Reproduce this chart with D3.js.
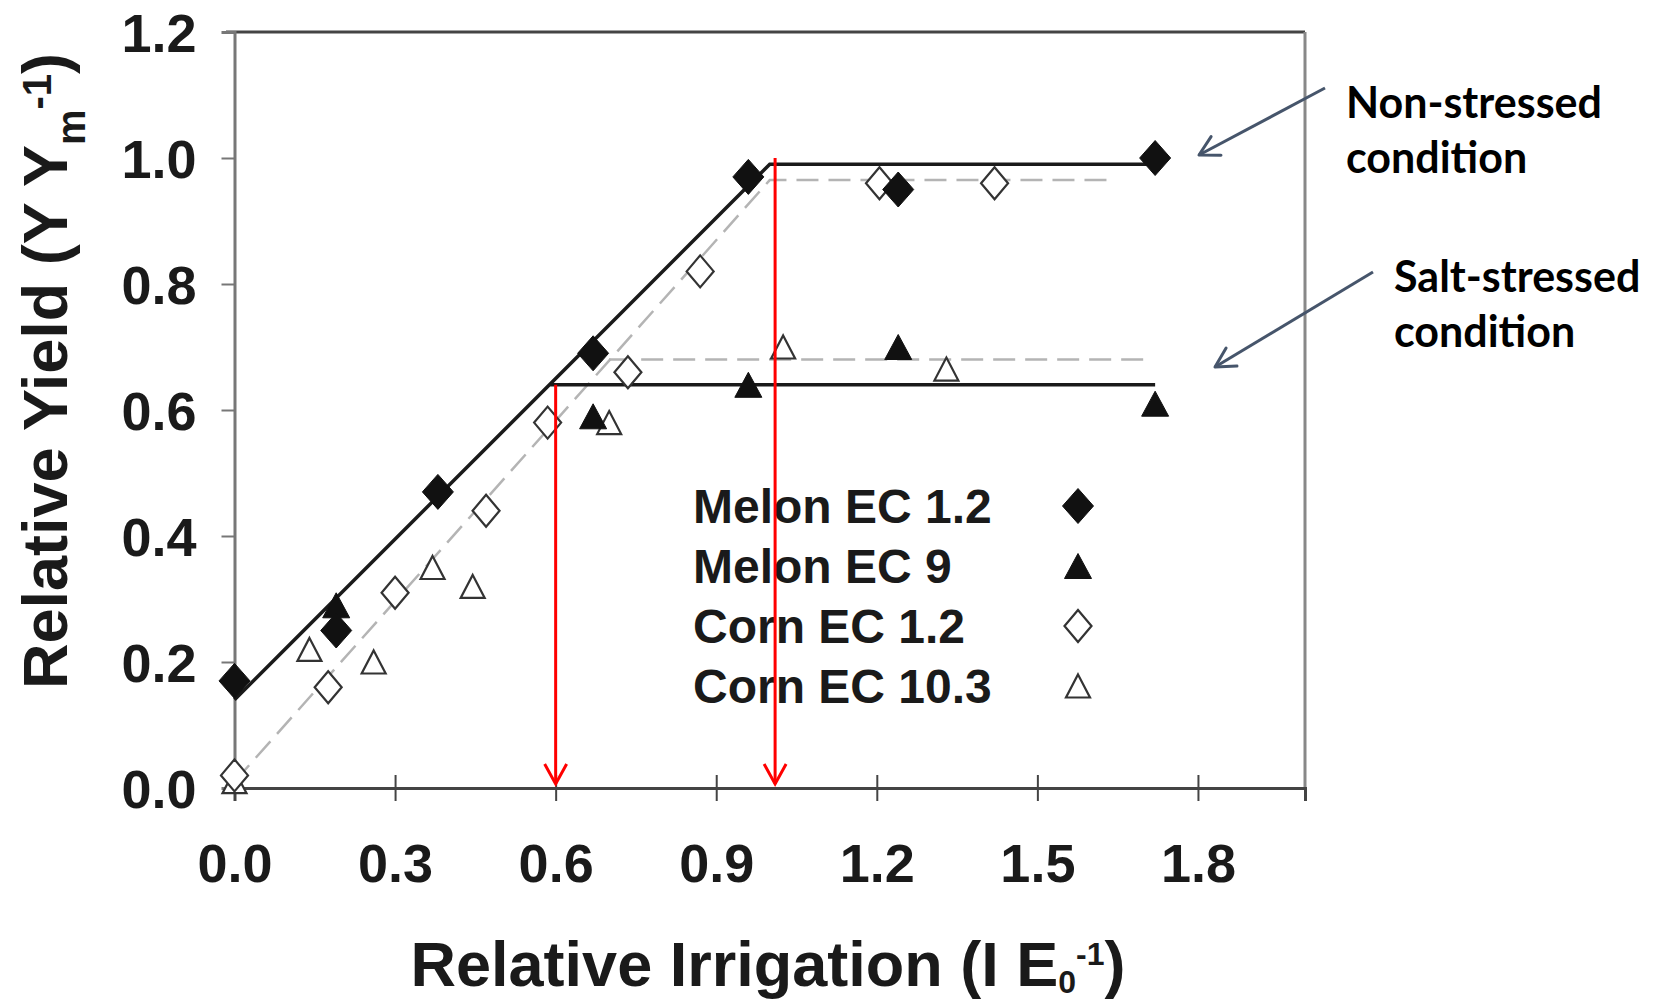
<!DOCTYPE html>
<html>
<head>
<meta charset="utf-8">
<script src="https://cdn.jsdelivr.net/npm/d3@7"></script>
<style>
body { margin: 0; background: #fff; }
svg { display: block; }
</style>
</head>
<body>
<div id="container"></div>
<script>
// Tick values
var xTicks = [0.0, 0.3, 0.6, 0.9, 1.2, 1.5, 1.8];
var yTicks = [0.0, 0.2, 0.4, 0.6, 0.8, 1.0, 1.2];

// Observed points [relative irrigation, relative yield]
var melonEC12 = [[0.0, 0.17], [0.19, 0.25], [0.38, 0.47], [0.67, 0.69], [0.96, 0.97], [1.24, 0.95], [1.72, 1.0]];
var melonEC9 = [[0.19, 0.29], [0.67, 0.59], [0.96, 0.64], [1.24, 0.70], [1.72, 0.61]];
var cornEC12 = [[0.0, 0.02], [0.175, 0.16], [0.30, 0.31], [0.47, 0.44], [0.585, 0.58], [0.735, 0.66], [0.87, 0.82], [1.205, 0.96], [1.42, 0.96]];
var cornEC103 = [[0.0, 0.01], [0.14, 0.22], [0.26, 0.20], [0.37, 0.35], [0.445, 0.32], [0.70, 0.58], [1.025, 0.70], [1.33, 0.665]];

// Fitted broken lines
var melonFit = [[0.0, 0.14], [1.0, 0.99], [1.72, 0.99]];
var melonSaltFit = [[0.59, 0.64], [1.72, 0.64]];
var cornFit = [[0.0, 0.01], [1.0, 0.965], [1.63, 0.965]];
var cornSaltFit = [[0.70, 0.68], [1.70, 0.68]];

// Red threshold arrows [x, top y]
var thresholds = [[0.6, 0.64], [1.01, 1.0]];

// Legend
var legendNames = ["Melon EC 1.2", "Melon EC 9", "Corn EC 1.2", "Corn EC 10.3"];

var W = 1655, H = 1002;
var font = "'Liberation Sans', Arial, sans-serif";

var svg = d3.select("#container").append("svg")
    .attr("width", W)
    .attr("height", H);

// Scales
var x = d3.scaleLinear().domain([0, 2.0]).range([234.5, 1305]);
var y = d3.scaleLinear().domain([0, 1.2]).range([788, 32]);

// Marker shapes
function diamond(w, h) {
    return "M0," + (-h / 2) + "L" + (w / 2) + ",0L0," + (h / 2) + "L" + (-w / 2) + ",0Z";
}
function triangle(w, h) {
    return "M0," + (-h / 2) + "L" + (w / 2) + "," + (h / 2) + "L" + (-w / 2) + "," + (h / 2) + "Z";
}
var styles = [
    {d: diamond(31, 35), fill: "#111", stroke: "#111", sw: 1},
    {d: triangle(27, 25), fill: "#111", stroke: "#111", sw: 1},
    {d: diamond(27, 32), fill: "#fff", stroke: "#333", sw: 2.2},
    {d: triangle(24, 23), fill: "#fff", stroke: "#333", sw: 2.2}
];

// Border (top and right)
svg.append("line")
    .attr("x1", 226).attr("x2", x(2.0))
    .attr("y1", y(1.2)).attr("y2", y(1.2))
    .attr("stroke", "#444").attr("stroke-width", 3);
svg.append("line")
    .attr("x1", x(2.0)).attr("x2", x(2.0))
    .attr("y1", y(1.2)).attr("y2", y(0) + 1)
    .attr("stroke", "#888").attr("stroke-width", 3);

// X axis
var xAxis = svg.append("g")
    .attr("transform", "translate(0," + y(0) + ")")
    .call(d3.axisBottom(x).tickValues(xTicks).tickSizeOuter(0).tickSize(13)
        .tickFormat(d3.format(".1f")));
xAxis.select(".domain").attr("stroke", "#444").attr("stroke-width", 3);
xAxis.selectAll(".tick line").attr("y1", -13).attr("y2", 13)
    .attr("stroke", "#444").attr("stroke-width", 2)
    .style("display", function(d) { return d === 0 ? "none" : null; });
xAxis.selectAll(".tick text")
    .attr("y", 94).attr("dy", null)
    .attr("fill", "#1a1a1a")
    .style("font-family", font).style("font-size", "54px").style("font-weight", "bold");

// Y axis
var yAxis = svg.append("g")
    .attr("transform", "translate(" + x(0) + ",0)")
    .call(d3.axisLeft(y).tickValues(yTicks).tickSizeOuter(0).tickSize(13).tickPadding(25)
        .tickFormat(d3.format(".1f")));
yAxis.select(".domain").attr("stroke", "#777").attr("stroke-width", 3);
yAxis.selectAll(".tick line").attr("stroke", "#777").attr("stroke-width", 2)
    .style("display", function(d) { return d === 0 || d === 1.2 ? "none" : null; });
yAxis.selectAll(".tick text")
    .attr("dy", "0.36em")
    .attr("fill", "#1a1a1a")
    .style("font-family", font).style("font-size", "54px").style("font-weight", "bold");

// Axis titles
var xt = svg.append("text")
    .attr("x", 768).attr("y", 986)
    .attr("text-anchor", "middle")
    .attr("fill", "#1a1a1a")
    .style("font-family", font).style("font-size", "63px").style("font-weight", "bold");
xt.append("tspan").text("Relative Irrigation (I E");
xt.append("tspan").attr("dy", 7).style("font-size", "32px").text("0");
xt.append("tspan").attr("dy", -28).style("font-size", "32px").text("-1");
xt.append("tspan").attr("dy", 21).text(")");

var yt = svg.append("text")
    .attr("transform", "translate(67,371) rotate(-90)")
    .attr("text-anchor", "middle")
    .attr("fill", "#1a1a1a")
    .style("font-family", font).style("font-size", "63px").style("font-weight", "bold");
yt.append("tspan").text("Relative Yield (Y Y");
yt.append("tspan").attr("dy", 18).style("font-size", "40px").text("m");
yt.append("tspan").attr("dy", -34).style("font-size", "40px").text("-1");
yt.append("tspan").attr("dy", 16).text(")");

// Fitted lines
var line = d3.line().x(function(d) { return x(d[0]); }).y(function(d) { return y(d[1]); });

[cornFit, cornSaltFit].forEach(function(s) {
    svg.append("path").attr("d", line(s))
        .attr("fill", "none").attr("stroke", "#b4b4b4")
        .attr("stroke-width", 2.5).attr("stroke-dasharray", "22,10");
});
[melonFit, melonSaltFit].forEach(function(s) {
    svg.append("path").attr("d", line(s))
        .attr("fill", "none").attr("stroke", "#1a1a1a")
        .attr("stroke-width", 3.5);
});

// Points
var series = [cornEC103, cornEC12, melonEC9, melonEC12];
var seriesStyle = [3, 2, 1, 0];
series.forEach(function(s, i) {
    var st = styles[seriesStyle[i]];
    svg.selectAll(null)
        .data(s)
        .enter().append("path")
        .attr("d", st.d)
        .attr("transform", function(d) { return "translate(" + x(d[0]) + "," + y(d[1]) + ")"; })
        .attr("fill", st.fill)
        .attr("stroke", st.stroke)
        .attr("stroke-width", st.sw);
});

// Legend
var legend = svg.append("g");
legendNames.forEach(function(name, i) {
    var cy = 506 + i * 60;
    legend.append("text")
        .attr("x", 693).attr("y", cy + 17)
        .attr("fill", "#1a1a1a")
        .style("font-family", font).style("font-size", "48px").style("font-weight", "bold")
        .text(name);
    legend.append("path")
        .attr("d", styles[i].d)
        .attr("transform", "translate(1078," + cy + ")")
        .attr("fill", styles[i].fill)
        .attr("stroke", styles[i].stroke)
        .attr("stroke-width", styles[i].sw);
});

// Red threshold arrows
thresholds.forEach(function(t) {
    var px = x(t[0]), tip = y(0) - 4;
    svg.append("line")
        .attr("x1", px).attr("x2", px)
        .attr("y1", y(t[1])).attr("y2", tip)
        .attr("stroke", "#ff0000").attr("stroke-width", 3);
    svg.append("path")
        .attr("d", "M" + (px - 11) + "," + (tip - 20) + "L" + px + "," + tip + "L" + (px + 11) + "," + (tip - 20))
        .attr("fill", "none").attr("stroke", "#ff0000").attr("stroke-width", 3);
});

// Annotations
var annFont = "Lato, 'Open Sans', sans-serif";
function arrow(x1, y1, x2, y2) {
    var a = Math.atan2(y2 - y1, x2 - x1), L = 22, s = 0.5;
    svg.append("line")
        .attr("x1", x1).attr("y1", y1).attr("x2", x2).attr("y2", y2)
        .attr("stroke", "#46556b").attr("stroke-width", 3);
    svg.append("path")
        .attr("d", "M" + (x2 - L * Math.cos(a - s)) + "," + (y2 - L * Math.sin(a - s)) +
            "L" + x2 + "," + y2 +
            "L" + (x2 - L * Math.cos(a + s)) + "," + (y2 - L * Math.sin(a + s)))
        .attr("fill", "none").attr("stroke", "#46556b").attr("stroke-width", 3)
        .attr("stroke-linecap", "round").attr("stroke-linejoin", "round");
}
arrow(1325, 88, 1199, 155);
arrow(1373, 272, 1215, 367);

var notes = [
    {x: 1346, y: 118, text: "Non-stressed"},
    {x: 1346, y: 173, text: "condition"},
    {x: 1394, y: 292, text: "Salt-stressed"},
    {x: 1394, y: 347, text: "condition"}
];
svg.selectAll(".note")
    .data(notes)
    .enter().append("text")
    .attr("class", "note")
    .attr("x", function(d) { return d.x; })
    .attr("y", function(d) { return d.y; })
    .attr("fill", "#000")
    .style("font-family", annFont).style("font-size", "43px").style("font-weight", "bold")
    .text(function(d) { return d.text; });
</script>
</body>
</html>
